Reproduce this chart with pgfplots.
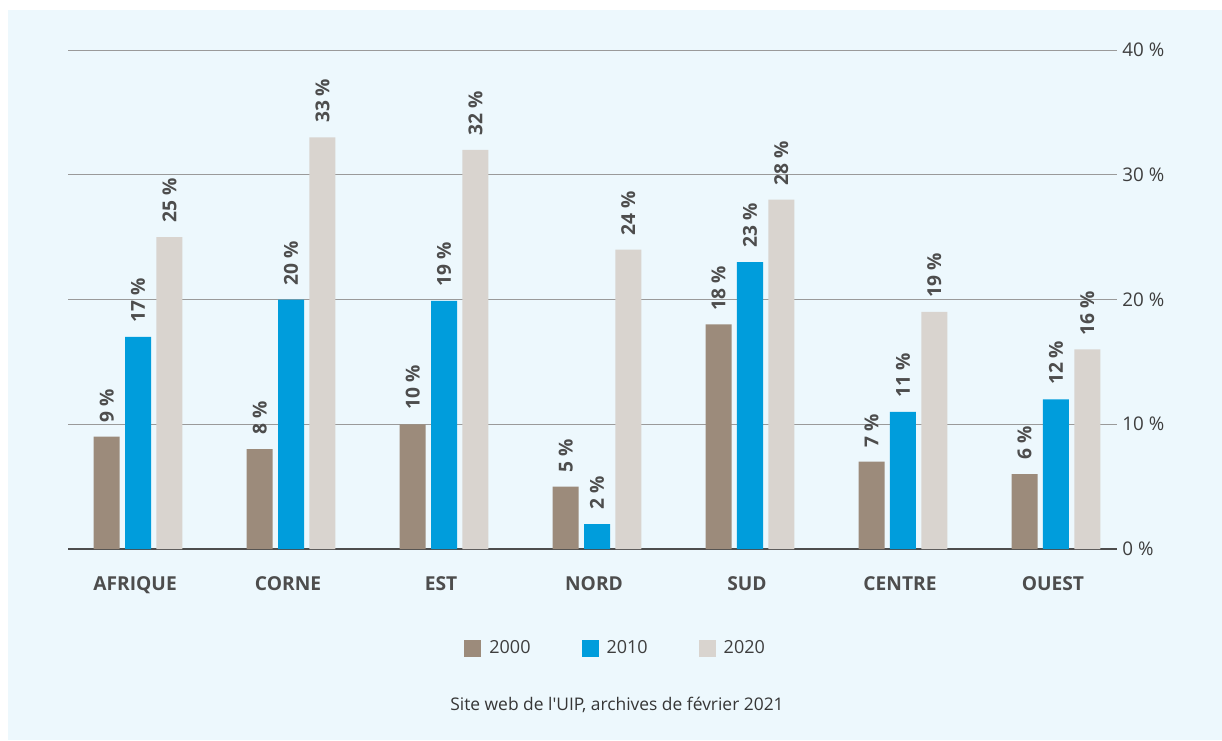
\documentclass[border=0pt]{standalone}
\usepackage{pgfplots}
\pgfplotsset{compat=1.18}
\usepackage{pgfplotstable}
\usepackage{fontspec}
\setmainfont{Open Sans}
\newfontfamily\plain{Open Sans}
\definecolor{bg}{HTML}{EDF8FD}
\definecolor{cA}{HTML}{9C8B7B}
\definecolor{cB}{HTML}{009DDC}
\definecolor{cC}{HTML}{D9D4CF}
\definecolor{txt}{HTML}{4D4D4D}
\definecolor{grd}{HTML}{9A9A9A}
\pgfplotstableread{
x y lab
0 9 9
1 8 8
2 10 10
3 5 5
4 18 18
5 7 7
6 6 6
}\tA
\pgfplotstableread{
x y lab
0 17 17
1 20 20
2 19.9 19
3 2 2
4 23 23
5 11 11
6 12 12
}\tB
\pgfplotstableread{
x y lab
0 25 25
1 33 33
2 32 32
3 24 24
4 28 28
5 19 19
6 16 16
}\tC
\begin{document}
\begin{tikzpicture}
\path[use as bounding box] (0,0) rectangle (611pt,-370pt);
\fill[bg] (4pt,-5pt) rectangle (611pt,-370pt);
\begin{axis}[
  at={(34pt,-274.5pt)}, anchor=south west,
  scale only axis, width=524.5pt, height=249.5pt,
  xmin=-0.458, xmax=6.399, ymin=0, ymax=40,
  ybar, bar width=0.17,
  axis x line=bottom, axis y line=right,
  x axis line style={draw=txt, line width=1.2pt, -},
  y axis line style={draw=none},
  ymajorgrids, grid style={grd, line width=0.5pt},
  major tick length=0pt,
  xtick={0,...,6},
  xticklabels={AFRIQUE,CORNE,EST,NORD,SUD,CENTRE,OUEST},
  xticklabel style={font=\fontsize{9.6}{11}\selectfont\bfseries, text=txt, anchor=north, inner sep=0pt, yshift=-13.5pt, xshift=-1.5pt},
  ytick={0,10,20,30,40},
  yticklabel={\pgfmathprintnumber{\tick}~\%},
  yticklabel style={font=\fontsize{9.4}{11}\selectfont, text=txt!80!black, anchor=west, inner sep=0pt, xshift=2.5pt},
  /pgf/number format/assume math mode=true,
  point meta=explicit symbolic,
  nodes near coords={\pgfplotspointmeta~\%},
  every node near coord/.append style={font=\fontsize{9.6}{11}\selectfont\bfseries, text=txt, anchor=west, rotate=90, inner xsep=7pt, inner ysep=0pt},
  legend style={at={(0.523,-0.2)}, anchor=center, draw=none, fill=none, font=\fontsize{9}{10}\selectfont, text=txt!80!black,
    legend cell align=left, column sep=0pt,
    /tikz/column 1/.style={column sep=2pt},
    /tikz/column 3/.style={column sep=2pt},
    /tikz/column 5/.style={column sep=2pt},
    /tikz/column 2/.style={column sep=23.5pt},
    /tikz/column 4/.style={column sep=23.5pt}},
  legend columns=3,
  clip=false,
]
\pgfplotsset{sq/.style={legend image code/.code={\fill[##1] (0pt,-4.25pt) rectangle (8.5pt,4.25pt);}}}
\addplot[fill=cA, draw=none, bar shift=-0.205, sq] table[x=x,y=y,meta=lab] {\tA};
\addlegendentry{2000}
\addplot[fill=cB, draw=none, bar shift=0, sq] table[x=x,y=y,meta=lab] {\tB};
\addlegendentry{2010}
\addplot[fill=cC, draw=none, bar shift=0.205, sq] table[x=x,y=y,meta=lab] {\tC};
\addlegendentry{2020}
\end{axis}
\node[font=\fontsize{8.7}{10}\selectfont\plain, text=txt!70!black] at (308.5pt,-352.5pt) {Site web de l'UIP, archives de février 2021};
\end{tikzpicture}
\end{document}
